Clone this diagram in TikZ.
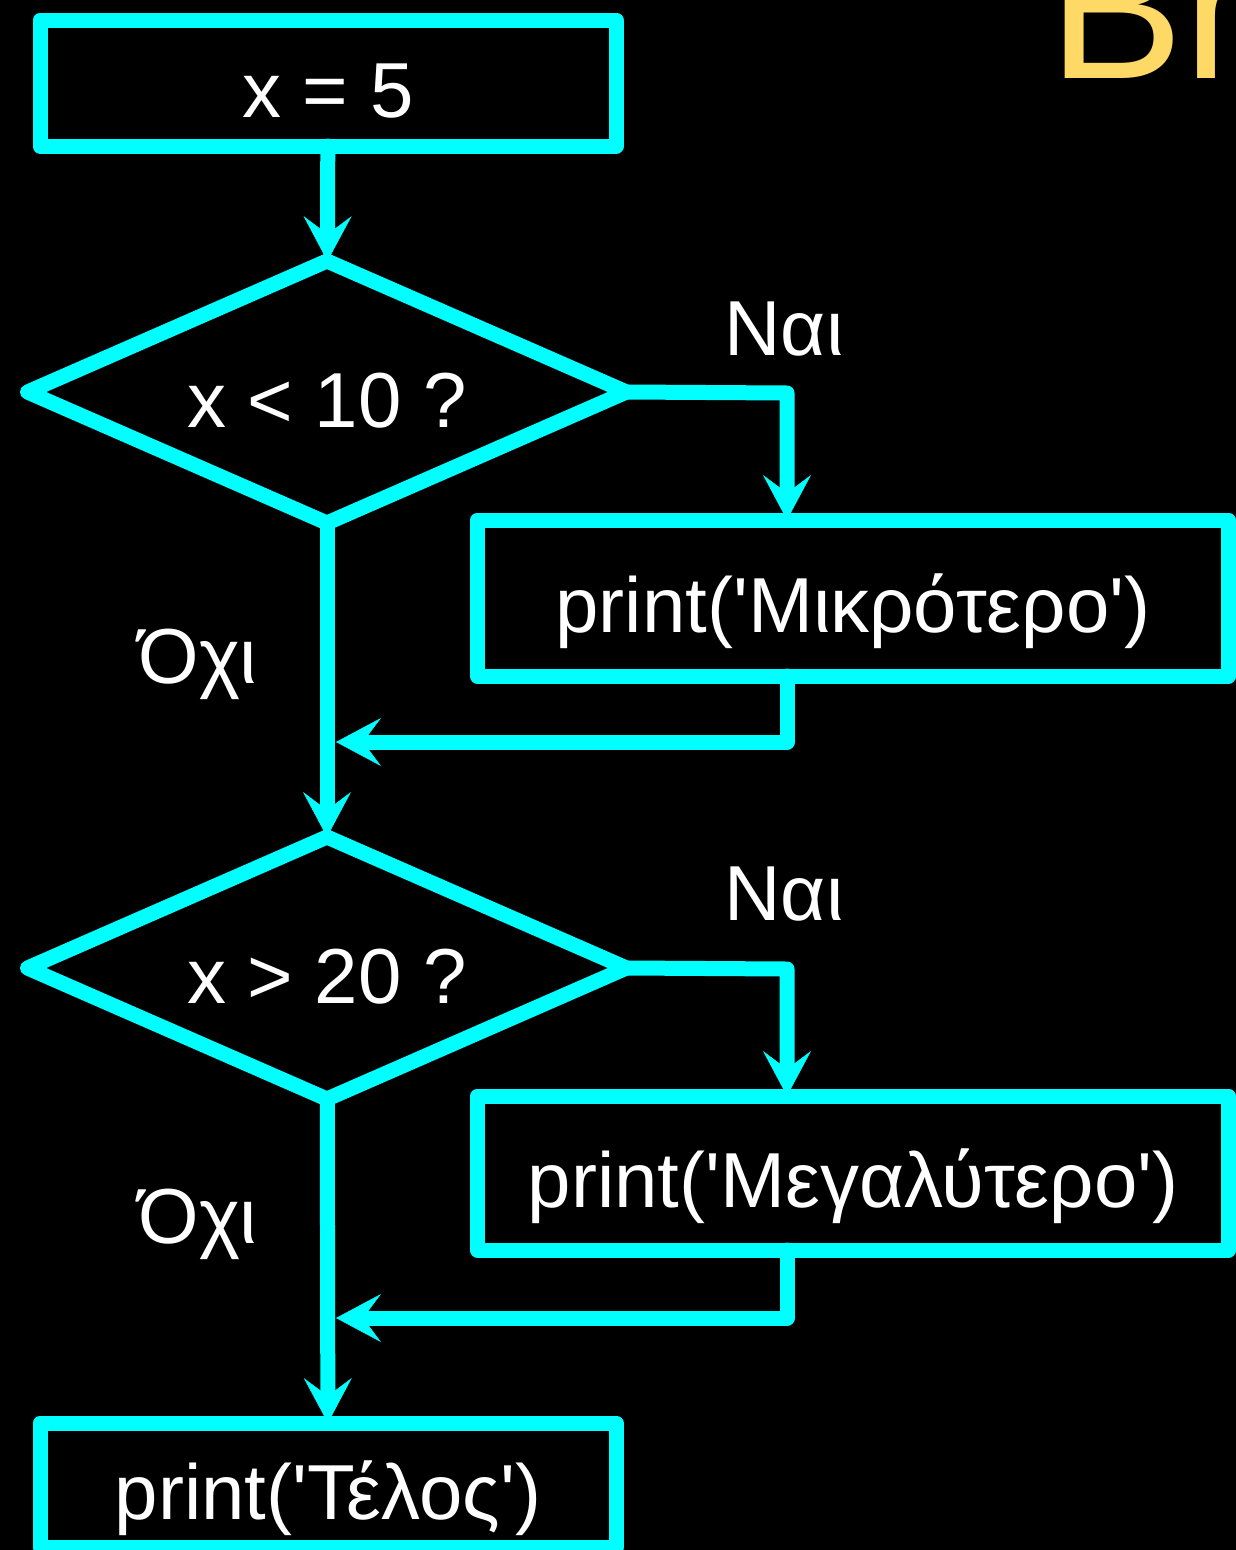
\documentclass[tikz,border=0pt]{standalone}
\usepackage{fontspec}
\setmainfont{Liberation Sans}
\usetikzlibrary{arrows.meta,shapes.geometric}
\definecolor{aqua}{HTML}{00FFFF}
\definecolor{gold}{HTML}{FFD966}
\newcommand{\q}{\textquotesingle}
\begin{document}
\begin{tikzpicture}[x=1pt,y=-1pt,
  every path/.style={line width=15pt,line cap=round,line join=round},
  every node/.style={text=white,font=\fontsize{78}{94}\selectfont,inner sep=0pt,outer sep=0pt},
  box/.style={draw=aqua,rectangle,text height=76pt,text depth=8pt},
  decision/.style={draw=aqua,diamond,aspect=2.29,minimum width=599pt,minimum height=262pt,text height=78pt,text depth=8pt},
  link/.style={draw=aqua,-{Stealth[length=45pt,width=48pt,inset=18pt,line width=0.5pt]}}]
\useasboundingbox (0,0) rectangle (1236,1550);
\fill[black] (0,0) rectangle (1236,1550);
% steps
\node[box,minimum width=576pt,minimum height=126pt] (start) at (328,83) {x = 5};
\node[decision] (cmp1) at (327,392) {x < 10 ?};
\node[box,minimum width=751pt,minimum height=156pt] (small) at (853,598) {print(\q Μικρότερο\q)};
\node[decision] (cmp2) at (327,968) {x > 20 ?};
\node[box,minimum width=751pt,minimum height=154pt] (large) at (853,1173) {print(\q Μεγαλύτερο\q)};
\node[box,minimum width=576pt,minimum height=124pt] (end) at (328,1485) {print(\q Τέλος\q)};
% branch labels
\node[anchor=base] (yes1) at (784,355) {Ναι};
\node[anchor=base] (no1) at (198,683) {Όχι};
\node[anchor=base] (yes2) at (784,920) {Ναι};
\node[anchor=base] (no2) at (198,1243) {Όχι};
\node[anchor=base west,text=gold,font=\fontsize{203}{240}\selectfont] (title) at (1048,78) {Βη};
% bends
\coordinate (turn1) at (787,393);
\coordinate (back1) at (787,742);
\coordinate (join1) at (336,742);
\coordinate (turn2) at (787,969);
\coordinate (back2) at (787,1318);
\coordinate (join2) at (336,1318);
\draw[link] (start) -- (cmp1);
\draw[link] (cmp1.east) -- (turn1) -- (turn1 |- small.north);
\draw[link] (small.south -| back1) -- (back1) -- (join1);
\draw[link] (cmp1) -- (cmp2);
\draw[link] (cmp2.east) -- (turn2) -- (turn2 |- large.north);
\draw[link] (large.south -| back2) -- (back2) -- (join2);
\draw[link] (cmp2) -- (end);
\end{tikzpicture}
\end{document}
